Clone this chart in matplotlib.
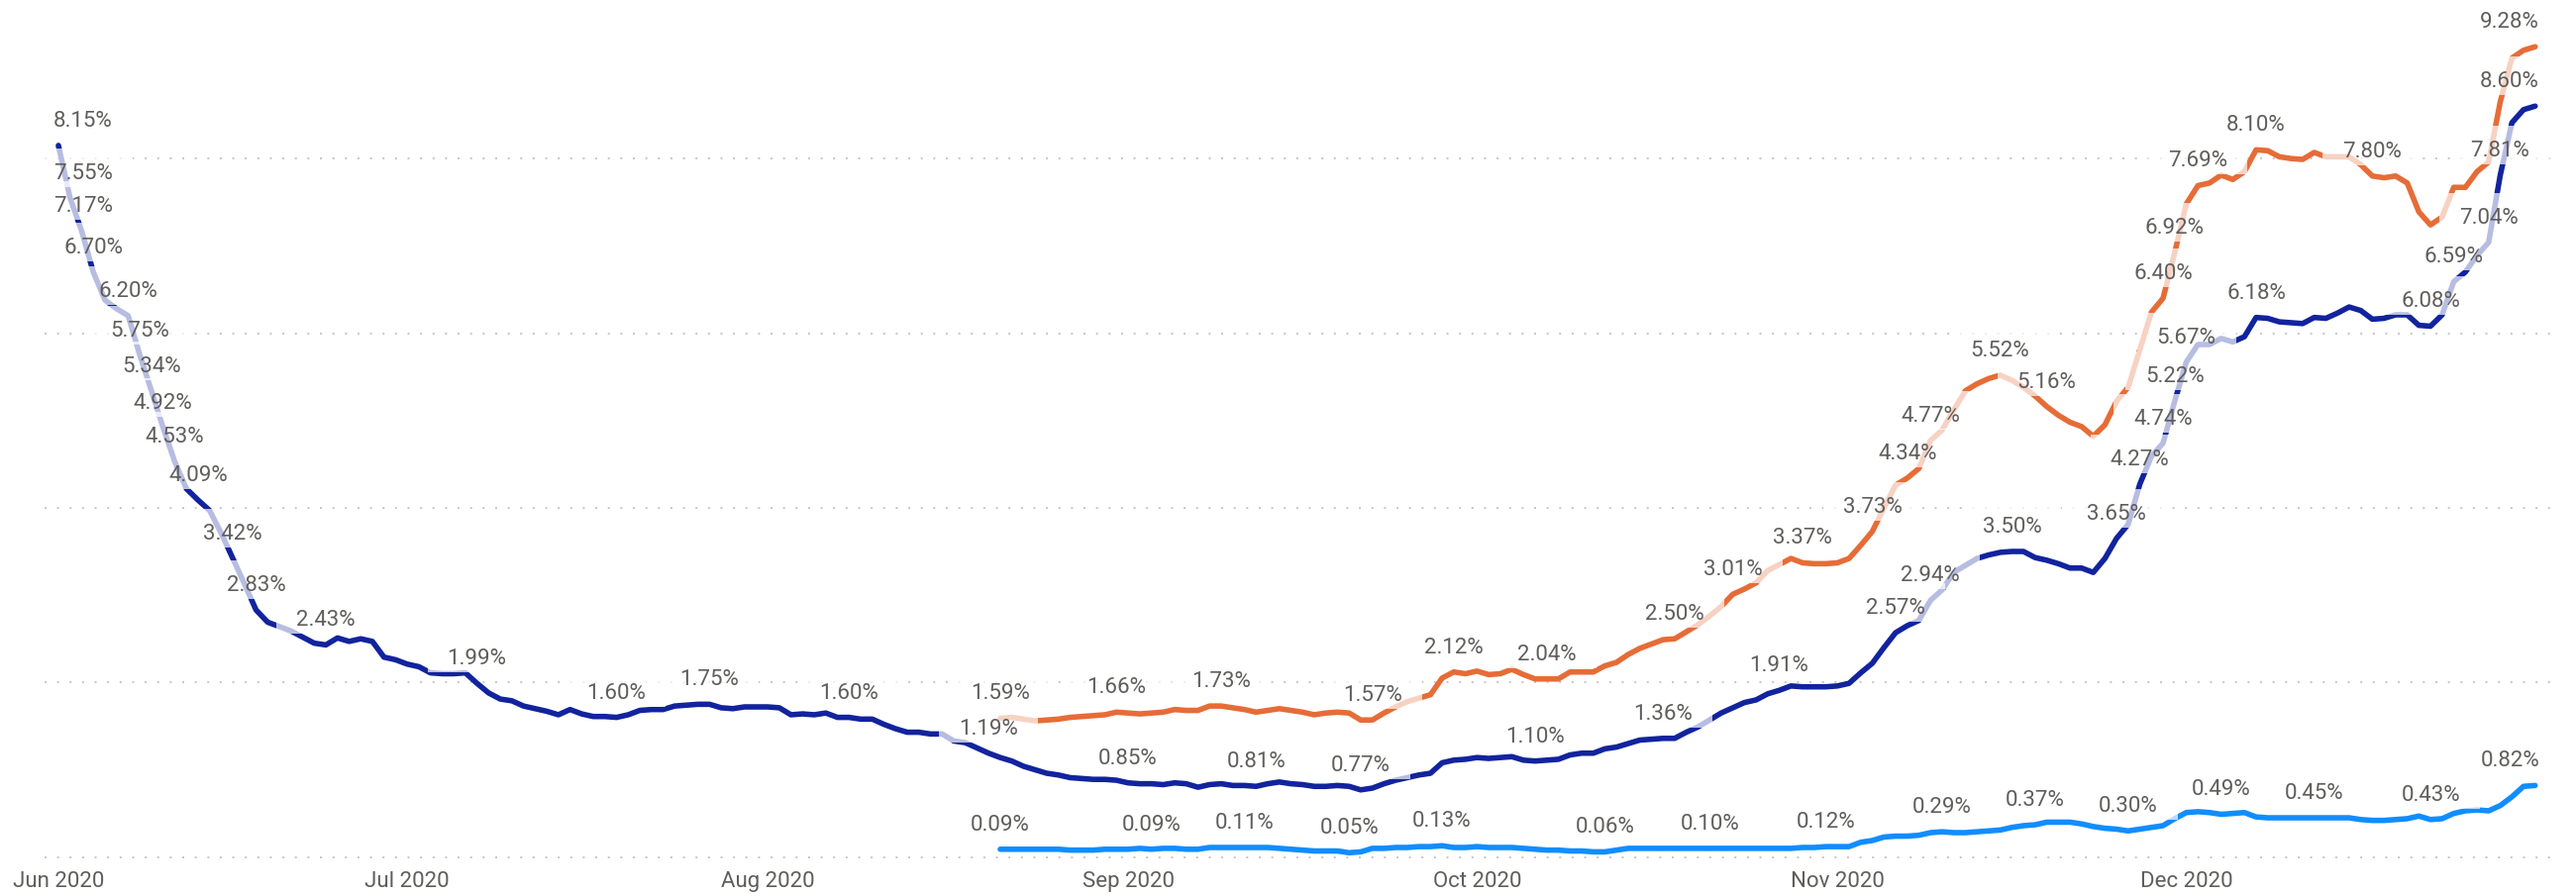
import pandas as pd
import matplotlib
matplotlib.use("Agg")
import matplotlib.pyplot as plt
import matplotlib.dates as mdates
from matplotlib.patches import Rectangle
from matplotlib.transforms import IdentityTransform

plt.rcParams['font.family'] = ['Roboto', 'DejaVu Sans']

# daily values (%)
navy_start = "2020-06-01"
navy = [8.15, 7.55, 7.17, 6.70, 6.38, 6.28, 6.20, 5.75, 5.34, 4.92,
        4.53, 4.22, 4.09, 3.97, 3.71, 3.42, 3.13, 2.83, 2.69, 2.64,
        2.59, 2.52, 2.45, 2.43, 2.51, 2.47, 2.50, 2.47, 2.29, 2.26,
        2.21, 2.18, 2.11, 2.10, 2.10, 2.11, 1.99, 1.88, 1.81, 1.79,
        1.73, 1.70, 1.67, 1.63, 1.69, 1.64, 1.61, 1.61, 1.60, 1.63,
        1.68, 1.69, 1.69, 1.73, 1.74, 1.75, 1.75, 1.71, 1.70, 1.72,
        1.72, 1.72, 1.71, 1.63, 1.64, 1.63, 1.65, 1.60, 1.60, 1.58,
        1.58, 1.52, 1.47, 1.43, 1.43, 1.41, 1.41, 1.33, 1.31, 1.25,
        1.19, 1.14, 1.10, 1.04, 1.00, 0.96, 0.94, 0.91, 0.90, 0.89,
        0.89, 0.88, 0.85, 0.84, 0.84, 0.83, 0.85, 0.84, 0.80, 0.83,
        0.84, 0.82, 0.82, 0.81, 0.84, 0.86, 0.84, 0.83, 0.81, 0.81,
        0.82, 0.81, 0.77, 0.79, 0.84, 0.88, 0.91, 0.94, 0.96, 1.08,
        1.11, 1.12, 1.14, 1.13, 1.14, 1.15, 1.11, 1.10, 1.11, 1.12,
        1.17, 1.19, 1.19, 1.24, 1.26, 1.30, 1.34, 1.35, 1.36, 1.36,
        1.43, 1.49, 1.57, 1.65, 1.71, 1.77, 1.80, 1.87, 1.91, 1.96,
        1.95, 1.95, 1.95, 1.96, 1.99, 2.11, 2.22, 2.40, 2.57, 2.65,
        2.71, 2.94, 3.06, 3.26, 3.34, 3.42, 3.46, 3.49, 3.50, 3.50,
        3.43, 3.40, 3.36, 3.31, 3.31, 3.26, 3.42, 3.65, 3.81, 4.27,
        4.59, 4.74, 5.22, 5.67, 5.87, 5.87, 5.94, 5.90, 5.96, 6.18,
        6.17, 6.13, 6.12, 6.11, 6.18, 6.17, 6.23, 6.30, 6.26, 6.16,
        6.17, 6.21, 6.21, 6.09, 6.08, 6.21, 6.59, 6.70, 6.89, 7.04,
        7.81, 8.41, 8.56, 8.60]

orange_start = "2020-08-21"
orange = [1.59, 1.60, 1.58, 1.56, 1.57, 1.58, 1.60, 1.61, 1.62,
          1.63, 1.66, 1.65, 1.64, 1.65, 1.66, 1.69, 1.68, 1.68, 1.73,
          1.73, 1.71, 1.69, 1.66, 1.68, 1.70, 1.68, 1.66, 1.63, 1.65,
          1.66, 1.65, 1.57, 1.57, 1.65, 1.72, 1.78, 1.82, 1.86, 2.05,
          2.12, 2.10, 2.13, 2.09, 2.10, 2.15, 2.09, 2.04, 2.04, 2.04,
          2.12, 2.12, 2.12, 2.19, 2.23, 2.32, 2.39, 2.44, 2.49, 2.50,
          2.58, 2.66, 2.76, 2.87, 3.01, 3.07, 3.14, 3.28, 3.35, 3.42,
          3.37, 3.36, 3.36, 3.37, 3.42, 3.57, 3.73, 4.00, 4.26, 4.34,
          4.45, 4.77, 4.89, 5.12, 5.34, 5.42, 5.48, 5.52, 5.46, 5.38,
          5.28, 5.16, 5.06, 4.98, 4.93, 4.82, 4.95, 5.22, 5.38, 5.81,
          6.24, 6.40, 6.92, 7.48, 7.69, 7.72, 7.81, 7.76, 7.85, 8.10,
          8.09, 8.02, 8.00, 7.99, 8.07, 8.02, 8.02, 8.02, 7.93, 7.80,
          7.78, 7.80, 7.72, 7.39, 7.24, 7.33, 7.67, 7.67, 7.85, 7.96,
          8.65, 9.15, 9.24, 9.28]

blue_start = "2020-08-21"
blue = [0.09, 0.09, 0.09, 0.09, 0.09, 0.09, 0.08, 0.08, 0.08,
        0.09, 0.09, 0.09, 0.10, 0.09, 0.10, 0.10, 0.09, 0.09, 0.11,
        0.11, 0.11, 0.11, 0.11, 0.11, 0.10, 0.09, 0.08, 0.07, 0.07,
        0.07, 0.05, 0.06, 0.10, 0.10, 0.11, 0.11, 0.12, 0.12, 0.13,
        0.11, 0.11, 0.12, 0.11, 0.11, 0.11, 0.10, 0.09, 0.08, 0.08,
        0.07, 0.07, 0.06, 0.06, 0.08, 0.10, 0.10, 0.10, 0.10, 0.10,
        0.10, 0.10, 0.10, 0.10, 0.10, 0.10, 0.10, 0.10, 0.10, 0.10,
        0.11, 0.11, 0.12, 0.12, 0.12, 0.17, 0.19, 0.23, 0.24, 0.24,
        0.25, 0.28, 0.29, 0.28, 0.28, 0.29, 0.30, 0.31, 0.34, 0.36,
        0.37, 0.40, 0.40, 0.40, 0.38, 0.35, 0.33, 0.32, 0.30, 0.32,
        0.34, 0.36, 0.44, 0.51, 0.52, 0.51, 0.49, 0.50, 0.51, 0.46,
        0.45, 0.45, 0.45, 0.45, 0.45, 0.45, 0.45, 0.45, 0.43, 0.42,
        0.42, 0.43, 0.44, 0.47, 0.43, 0.44, 0.50, 0.53, 0.54, 0.53,
        0.59, 0.69, 0.81, 0.82]

# points that carry a data label
navy_labels = ["2020-06-01", "2020-06-02", "2020-06-03", "2020-06-04", "2020-06-07",
               "2020-06-08", "2020-06-09", "2020-06-10", "2020-06-11", "2020-06-13",
               "2020-06-16", "2020-06-18", "2020-06-24", "2020-07-07", "2020-07-19",
               "2020-07-27", "2020-08-08", "2020-08-20", "2020-09-01", "2020-09-12",
               "2020-09-21", "2020-10-06", "2020-10-17", "2020-10-27", "2020-11-06",
               "2020-11-09", "2020-11-16", "2020-11-25", "2020-11-27", "2020-11-29",
               "2020-11-30", "2020-12-01", "2020-12-07", "2020-12-22", "2020-12-24",
               "2020-12-27", "2020-12-28", "2020-12-31"]
orange_labels = ["2020-08-21", "2020-08-31", "2020-09-09", "2020-09-22", "2020-09-29",
                 "2020-10-07", "2020-10-18", "2020-10-23", "2020-10-29", "2020-11-04",
                 "2020-11-07", "2020-11-09", "2020-11-15", "2020-11-19", "2020-11-29",
                 "2020-11-30", "2020-12-02", "2020-12-07", "2020-12-17", "2020-12-31"]
blue_labels = ["2020-08-21", "2020-09-03", "2020-09-11", "2020-09-20", "2020-09-28",
               "2020-10-12", "2020-10-21", "2020-10-31", "2020-11-10", "2020-11-18",
               "2020-11-26", "2020-12-04", "2020-12-12", "2020-12-22", "2020-12-31"]

month_ticks = ["2020-06-01", "2020-07-01", "2020-08-01", "2020-09-01",
               "2020-10-01", "2020-11-01", "2020-12-01"]
month_names = ["Jun 2020", "Jul 2020", "Aug 2020", "Sep 2020",
               "Oct 2020", "Nov 2020", "Dec 2020"]

NAVY = "#12239E"
ORANGE = "#E66C37"
BLUE = "#118DFF"
TXT = "#605E5C"

W, H = 2601, 905
fig = plt.figure(figsize=(W / 100, H / 100), dpi=100)
ax = fig.add_axes([45 / W, (H - 872) / H, (2575 - 45) / W, (872 - 8) / H])

series = []
for start, vals, col, labs in [(blue_start, blue, BLUE, blue_labels),
                               (navy_start, navy, NAVY, navy_labels),
                               (orange_start, orange, ORANGE, orange_labels)]:
    s = pd.Series(vals, index=pd.date_range(start, periods=len(vals), freq="D"))
    ax.plot(s.index, s.values, color=col, lw=4.0, solid_joinstyle="round",
            solid_capstyle="round", zorder=2)
    series.append((s, labs))

d0 = pd.Timestamp(navy_start)
ax.set_xlim(d0 - pd.Timedelta(days=1.19), d0 + pd.Timedelta(days=214.3))
ax.set_ylim(-0.0714, 9.725)

ax.set_yticks([0, 2, 4, 6, 8])
ax.yaxis.grid(True, color="#C8C6C4", linestyle=(0, (1, 5.5)), linewidth=1.4)
ax.set_xticks(pd.to_datetime(month_ticks))
ax.set_xticklabels(month_names)
ax.tick_params(axis="y", length=0, labelleft=False)
ax.tick_params(axis="x", length=0, pad=5.8, labelsize=16, labelcolor=TXT)
for sp in ax.spines.values():
    sp.set_visible(False)

texts = []
for s, labs in series:
    for d in labs:
        v = s[pd.Timestamp(d)]
        t = ax.annotate(f"{v:.2f}%", (mdates.date2num(pd.Timestamp(d)), v),
                        xytext=(0, 13.7), textcoords="offset points",
                        ha="center", va="baseline", fontsize=16, color=TXT,
                        zorder=5, annotation_clip=False)
        texts.append(t)

# keep labels inside the plot area, then put a half-clear white box under each
fig.canvas.draw()
r = fig.canvas.get_renderer()
abb = ax.get_window_extent(r)
for t in texts:
    bb = t.get_window_extent(r)
    dx = 0
    if bb.x0 < abb.x0 + 9:
        dx = abb.x0 + 9 - bb.x0
    elif bb.x1 > abb.x1 - 11:
        dx = abb.x1 - 11 - bb.x1
    if dx:
        t.xyann = (t.xyann[0] + dx * 72 / 100, t.xyann[1])
    bb = t.get_window_extent(r)
    py = ax.transData.transform(t.xy)[1]
    base = py + 13.7 * 100 / 72
    rect = Rectangle((bb.x0 - 20, base - 8), bb.width + 40, 39,
                     transform=IdentityTransform(), facecolor="white",
                     edgecolor="none", alpha=0.7, zorder=4, clip_on=False)
    ax.add_artist(rect)

fig.savefig("out.png", dpi=100, facecolor="white")
